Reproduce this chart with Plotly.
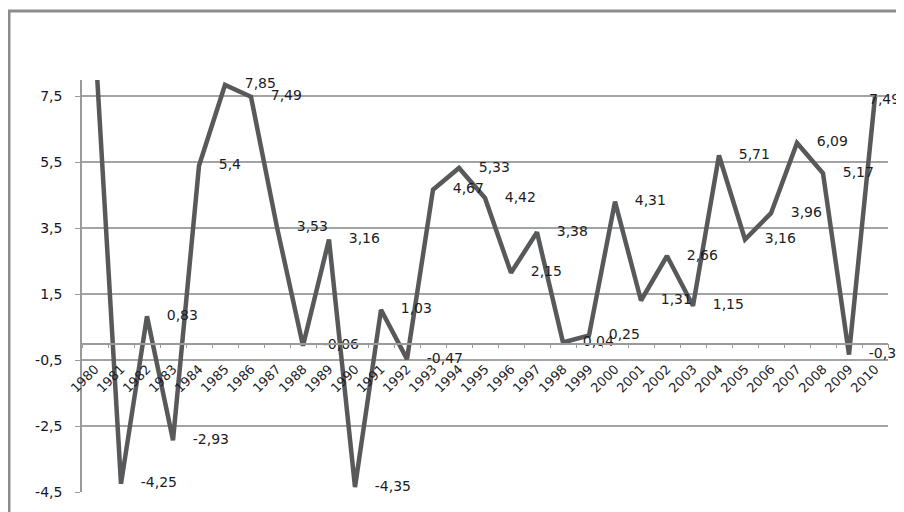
import plotly.graph_objects as go

years = [str(y) for y in range(1980, 2011)]
growth = [9.2, -4.25, 0.83, -2.93, 5.4, 7.85, 7.49, 3.53, -0.06, 3.16,
          -4.35, 1.03, -0.47, 4.67, 5.33, 4.42, 2.15, 3.38, 0.04, 0.25,
          4.31, 1.31, 2.66, 1.15, 5.71, 3.16, 3.96, 6.09, 5.17, -0.33, 7.49]
y_ticks = [-4.5, -2.5, -0.5, 1.5, 3.5, 5.5, 7.5]
y_ticktext = [f"{v:.1f}".replace(".", ",") for v in y_ticks]
Y_MIN, Y_MAX = -4.5, 8.0


def fmt(v):
    s = f"{v:.2f}".rstrip("0").rstrip(".")
    return s.replace(".", ",")


labels = [fmt(v) if v <= Y_MAX else "" for v in growth]
# the last label sits at the right edge; it is drawn as an annotation
trace_labels = labels[:-1] + [""]

label_font = dict(family="DejaVu Sans", size=14, color="#1c1c24")

fig = go.Figure()
fig.add_trace(go.Scatter(
    x=years, y=growth, mode="lines",
    line=dict(color="#58595b", width=4.5),
    hoverinfo="skip", showlegend=False,
))
fig.add_trace(go.Scatter(
    x=years, y=growth, mode="markers+text", text=trace_labels,
    textposition="middle right",
    textfont=label_font,
    marker=dict(size=30, color="rgba(0,0,0,0)"),
    cliponaxis=False, hoverinfo="skip", showlegend=False,
))
fig.add_annotation(
    x=len(years) - 1, y=growth[-1], text=labels[-1], showarrow=False,
    xref="x", yref="y",
    xanchor="left", xshift=-8, yshift=-2, font=label_font,
)

fig.update_layout(
    width=904, height=512,
    margin=dict(l=74, r=24, t=72, b=28),
    paper_bgcolor="white", plot_bgcolor="white",
    xaxis=dict(
        type="category", anchor="free", automargin=False,
        range=[-0.5, len(years) - 0.5],
        position=(0 - Y_MIN) / (Y_MAX - Y_MIN),
        showline=True, linecolor="#9a9a9a", linewidth=1.5,
        ticks="outside", ticklen=4, tickcolor="#9a9a9a", tickson="boundaries",
        tickangle=-45, ticklabelstandoff=12,
        tickfont=dict(family="DejaVu Sans", size=13, color="#1c1c24"),
        showgrid=False, zeroline=False,
    ),
    yaxis=dict(
        range=[Y_MIN, Y_MAX], tickvals=y_ticks, ticktext=y_ticktext,
        automargin=False,
        showgrid=True, gridcolor="#a3a3a3", gridwidth=1.5,
        showline=True, linecolor="#9a9a9a", linewidth=1.5,
        ticks="outside", ticklen=5, tickcolor="#9a9a9a",
        ticklabelstandoff=10,
        tickfont=dict(family="DejaVu Sans", size=14, color="#14142a"),
        zeroline=False,
    ),
    shapes=[dict(
        type="rect", xref="paper", yref="paper",
        x0=-0.0906, x1=1.06, y0=-0.08, y1=1.1675,
        line=dict(color="#8c8c8c", width=3), layer="above",
    )],
)

fig.write_html("out.html")
